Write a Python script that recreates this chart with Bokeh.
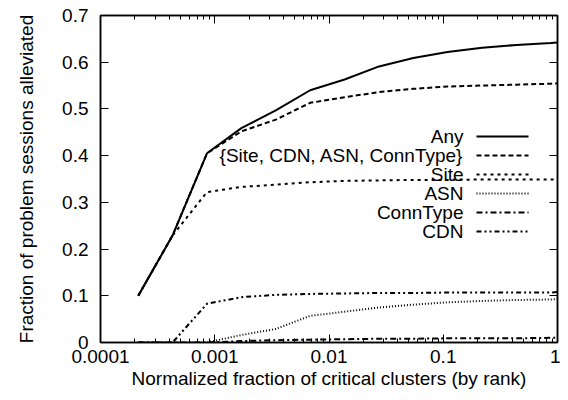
from bokeh.plotting import figure
from bokeh.models import (ColumnDataSource, FixedTicker, CustomJSTickFormatter,
                          LinearAxis, LogAxis, Label, Arrow, Range1d)
from bokeh.embed import file_html
from bokeh.resources import INLINE

# ---- data ----
frac = [0.000214, 0.000427, 0.000855, 0.00171, 0.00342, 0.00684, 0.0137,
        0.0274, 0.0547, 0.109, 0.219, 0.438, 0.875, 1.0]
any_v = [0.100, 0.229, 0.405, 0.459, 0.497, 0.540, 0.563, 0.591, 0.609,
         0.622, 0.631, 0.637, 0.641, 0.642]
combo_v = [0.100, 0.229, 0.405, 0.452, 0.477, 0.513, 0.525, 0.536, 0.543,
           0.548, 0.550, 0.552, 0.554, 0.555]
site_v = [0.100, 0.229, 0.322, 0.333, 0.338, 0.343, 0.346, 0.347, 0.348,
          0.348, 0.349, 0.349, 0.349, 0.349]
asn_v = [0.0, 0.0, 0.0, 0.016, 0.029, 0.057, 0.066, 0.075, 0.081, 0.086,
         0.089, 0.091, 0.092, 0.093]
conn_v = [0.0, 0.0, 0.0, 0.003, 0.005, 0.006, 0.007, 0.008, 0.008, 0.009,
          0.009, 0.009, 0.010, 0.010]
cdn_v = [0.0, 0.0, 0.083, 0.097, 0.102, 0.104, 0.105, 0.106, 0.106, 0.107,
         0.107, 0.107, 0.107, 0.108]

series_names = ["Any", "{Site, CDN, ASN, ConnType}", "Site", "ASN", "ConnType", "CDN"]
series_vals = [any_v, combo_v, site_v, asn_v, conn_v, cdn_v]
series_dash = ["solid", "5 3", "3 4", "1 2", "6 3 2 3", "5 3 2 3 2 3"]
series_width = [2, 2, 2, 2, 2, 2]

x_ticks = [0.0001, 0.001, 0.01, 0.1, 1.0]
y_ticks = [0.0, 0.1, 0.2, 0.3, 0.4, 0.5, 0.6, 0.7]
x_minor = [k * t for t in x_ticks[:-1] for k in range(2, 10)]

x_title = "Normalized fraction of critical clusters (by rank)"
y_title = "Fraction of problem sessions alleviated"

FONT = "Liberation Sans"
FS = "19px"

p = figure(width=560, height=392, x_axis_type="log",
           x_range=Range1d(0.0001, 1.0), y_range=Range1d(0.0, 0.7),
           output_backend="svg", toolbar_location=None,
           min_border_left=100, min_border_right=3, min_border_top=15,
           min_border_bottom=50)
p.grid.visible = False
p.outline_line_color = "black"
p.outline_line_width = 1.5
p.background_fill_color = "white"
p.border_fill_color = "white"

fmt = CustomJSTickFormatter(code="return tick.toString();")
blank = CustomJSTickFormatter(code="return '';")

def style_axis(ax, ticker, formatter, labels=True):
    ax.ticker = ticker
    ax.formatter = formatter
    ax.axis_line_color = "black"
    ax.axis_line_width = 1.5
    ax.major_tick_in = 8
    ax.major_tick_out = 0
    ax.minor_tick_in = 4
    ax.minor_tick_out = 0
    ax.major_tick_line_width = 1
    ax.minor_tick_line_width = 1
    ax.major_tick_line_color = "black"
    ax.minor_tick_line_color = "black"
    ax.major_label_text_font = FONT
    ax.major_label_text_color = "black"
    ax.axis_label_text_color = "black"
    if labels:
        ax.major_label_text_font_size = FS
    else:
        ax.major_label_text_font_size = "1px"
        ax.major_label_standoff = 0

xax = p.xaxis[0]
style_axis(xax, FixedTicker(ticks=x_ticks, minor_ticks=x_minor), fmt)
xax.major_label_standoff = 7
xax.axis_label = x_title
xax.axis_label_text_font = FONT
xax.axis_label_text_font_size = FS
xax.axis_label_text_font_style = "normal"
xax.axis_label_standoff = 2

yax = p.yaxis[0]
style_axis(yax, FixedTicker(ticks=y_ticks), fmt)
yax.major_label_standoff = 12
yax.axis_label = y_title
yax.axis_label_text_font = FONT
yax.axis_label_text_font_size = FS
yax.axis_label_text_font_style = "normal"
yax.axis_label_standoff = 22

top = LogAxis()
style_axis(top, FixedTicker(ticks=x_ticks, minor_ticks=x_minor), blank, labels=False)
p.add_layout(top, "above")
right = LinearAxis()
style_axis(right, FixedTicker(ticks=y_ticks), blank, labels=False)
p.add_layout(right, "right")

for name, vals, dash, w in zip(series_names, series_vals, series_dash, series_width):
    src = ColumnDataSource(dict(x=frac, y=vals))
    p.line("x", "y", source=src, line_color="black", line_width=w, line_dash=dash)

# legend in gnuplot style: right-aligned text, sample to the right
leg_top = 206
leg_step = 19
for i, (name, dash, w) in enumerate(zip(series_names, series_dash, series_width)):
    yy = leg_top - i * leg_step
    p.add_layout(Label(x=363, y=yy, x_units="screen", y_units="screen", text=name,
                       text_align="right", text_baseline="middle",
                       text_font=FONT, text_font_size=FS, text_color="black"))
    p.add_layout(Arrow(end=None, x_start=376, y_start=yy, x_end=428, y_end=yy,
                       start_units="screen", end_units="screen",
                       line_color="black", line_width=w, line_dash=dash))

open("out.html", "w").write(file_html(p, INLINE))
